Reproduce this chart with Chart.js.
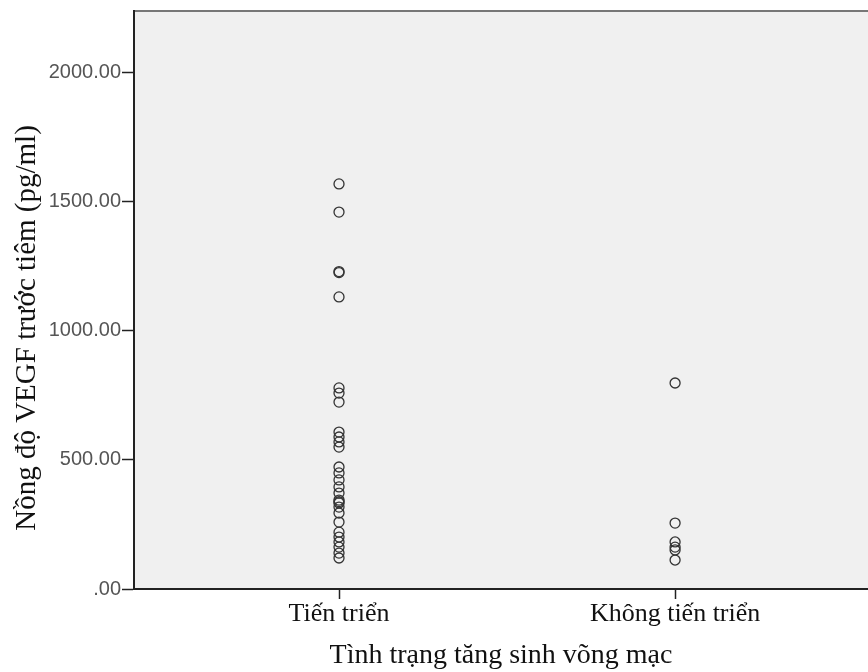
<!DOCTYPE html>
<html>
<head>
<meta charset="utf-8">
<script src="https://cdn.jsdelivr.net/npm/chart.js@4"></script>
<style>
  body { margin: 0; background: #fff; }
  #wrap { width: 868px; height: 672px; }
</style>
</head>
<body>
<div id="wrap"><canvas id="vegfChart"></canvas></div>
<script>
// categories and values
const groups = ['Tiến triển', 'Không tiến triển'];
const progressing = [1567, 1458, 1228, 1224, 1130, 778, 758, 723, 607, 588, 569, 549,
    472, 449, 422, 395, 371, 344, 338, 333, 317, 294, 259, 220, 201, 182, 162, 139, 120];
const notProgressing = [797, 255, 182, 162, 151, 112];
const yTicks = [0, 500, 1000, 1500, 2000];
const yTitle = 'Nồng độ VEGF trước tiêm (pg/ml)';
const xTitle = 'Tình trạng tăng sinh võng mạc';

const points = [];
progressing.forEach(v => points.push({ x: 1, y: v }));
notProgressing.forEach(v => points.push({ x: 2, y: v }));

// grey plot background, top border and the two axis titles
const frame = {
    id: 'frame',
    beforeDraw(chart) {
        const { ctx, chartArea: a } = chart;
        ctx.save();
        ctx.fillStyle = '#f0f0f0';
        ctx.fillRect(a.left, a.top, a.right - a.left, a.bottom - a.top);
        ctx.strokeStyle = '#777';
        ctx.lineWidth = 2;
        ctx.beginPath();
        ctx.moveTo(a.left, a.top);
        ctx.lineTo(a.right, a.top);
        ctx.stroke();
        ctx.restore();
    },
    afterDraw(chart) {
        const { ctx } = chart;
        ctx.save();
        ctx.fillStyle = '#111';
        ctx.textAlign = 'center';
        ctx.textBaseline = 'middle';
        ctx.font = '28px "Liberation Serif", serif';
        ctx.fillText(xTitle, 501, 656);
        ctx.font = '29px "Liberation Serif", serif';
        ctx.translate(27, 328);
        ctx.rotate(-Math.PI / 2);
        ctx.fillText(yTitle, 0, 0);
        ctx.restore();
    }
};

const ctx = document.getElementById('vegfChart').getContext('2d');
const chart = new Chart(ctx, {
    type: 'scatter',
    data: {
        datasets: [{
            data: points,
            pointStyle: 'circle',
            pointRadius: 5,
            pointHoverRadius: 5,
            borderColor: '#333',
            borderWidth: 1.3,
            backgroundColor: 'rgba(0,0,0,0)'
        }]
    },
    options: {
        responsive: true,
        maintainAspectRatio: false,
        animation: false,
        layout: { autoPadding: false, padding: { top: 11, right: 0, left: 0, bottom: 0 } },
        plugins: {
            legend: { display: false },
            tooltip: { enabled: false }
        },
        scales: {
            x: {
                type: 'linear',
                min: 0.39,
                max: 2.574,
                afterBuildTicks: scale => {
                    scale.ticks = [{ value: 1 }, { value: 2 }];
                },
                afterFit: scale => {
                    scale.height = 672 - 589;
                    scale.paddingLeft = 0;
                    scale.paddingRight = 0;
                },
                ticks: {
                    callback: v => groups[v - 1],
                    color: '#111',
                    font: { family: '"Liberation Serif", serif', size: 26 },
                    padding: 0,
                    maxRotation: 0
                },
                grid: {
                    drawOnChartArea: false,
                    tickLength: 10,
                    tickColor: '#222',
                    tickWidth: 1.5
                },
                border: { color: '#222', width: 2 }
            },
            y: {
                min: 0,
                max: 2236,
                afterBuildTicks: scale => {
                    scale.ticks = yTicks.map(v => ({ value: v }));
                },
                afterFit: scale => {
                    scale.width = 134;
                    scale.paddingTop = 0;
                    scale.paddingBottom = 0;
                },
                ticks: {
                    callback: v => v === 0 ? '.00' : v.toFixed(2),
                    color: '#555',
                    font: { family: '"Liberation Sans", sans-serif', size: 20 },
                    padding: 1
                },
                grid: {
                    drawOnChartArea: false,
                    tickLength: 12,
                    tickColor: '#222',
                    tickWidth: 1.5
                },
                border: { color: '#222', width: 2 }
            }
        }
    },
    plugins: [frame]
});
</script>
</body>
</html>
